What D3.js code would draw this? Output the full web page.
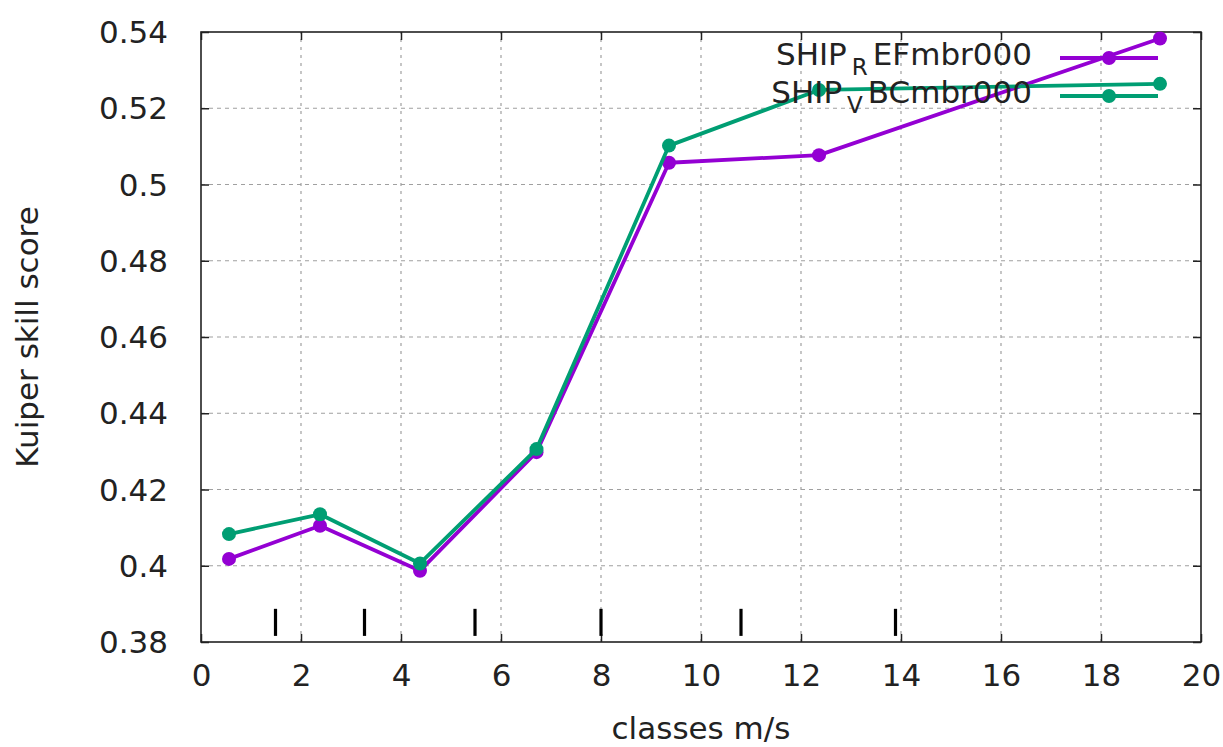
<!DOCTYPE html>
<html>
<head>
<meta charset="utf-8">
<script src="https://cdn.jsdelivr.net/npm/d3@7"></script>
<style>
  html, body { margin: 0; padding: 0; background: #fff; }
  svg { display: block; }
  text { font-family: "DejaVu Sans", sans-serif; fill: #222; }
</style>
</head>
<body>
<svg id="chart" width="1223" height="747"></svg>
<script>
// ---- data ----
const classX   = [0.56, 2.38, 4.38, 6.71, 9.36, 12.36, 19.18];
const refValues = [0.4018, 0.4105, 0.3987, 0.4298, 0.5057, 0.5077, 0.5383];
const vbcValues = [0.4083, 0.4135, 0.4006, 0.4306, 0.5102, 0.5248, 0.5264];
const classBounds = [1.49, 3.27, 5.48, 8.0, 10.8, 13.89];
const boundRange = [0.3816, 0.3887];
const xTicks = [0, 2, 4, 6, 8, 10, 12, 14, 16, 18, 20];
const yTicks = [0.38, 0.40, 0.42, 0.44, 0.46, 0.48, 0.50, 0.52, 0.54];
const seriesNames = [["SHIP", "R", "EFmbr000"], ["SHIP", "V", "BCmbr000"]];
const colors = ["#9400d3", "#009e73"];

// ---- layout ----
const svg = d3.select("#chart");
const L = 201, R = 1201, T = 32, B = 642;
const x = d3.scaleLinear().domain([0, 20]).range([L, R]);
const y = d3.scaleLinear().domain([0.38, 0.54]).range([B, T]);
const FS = 31;
const LW = 3.8, MR = 7;

// grid
const grid = svg.append("g");
xTicks.slice(1, -1).forEach(v => {
  grid.append("line").attr("x1", x(v)).attr("x2", x(v)).attr("y1", B).attr("y2", T)
    .attr("stroke", "#a0a0a0").attr("stroke-width", 1.2).attr("stroke-dasharray", "3,5");
});
yTicks.slice(1, -1).forEach(v => {
  grid.append("line").attr("x1", L).attr("x2", R).attr("y1", y(v)).attr("y2", y(v))
    .attr("stroke", "#a0a0a0").attr("stroke-width", 1.2).attr("stroke-dasharray", "4,4");
});

// axes (D3 axes, ticks inward, gnuplot style)
const tickLen = 8;
const fmtY = d => String(+d.toFixed(2));
const axB = svg.append("g").attr("transform", `translate(0,${B})`)
  .call(d3.axisBottom(x).tickValues(xTicks).tickSizeInner(-tickLen).tickSizeOuter(0).tickPadding(22));
const axT = svg.append("g").attr("transform", `translate(0,${T})`)
  .call(d3.axisTop(x).tickValues(xTicks).tickSizeInner(-tickLen).tickSizeOuter(0).tickFormat(""));
const axL = svg.append("g").attr("transform", `translate(${L},0)`)
  .call(d3.axisLeft(y).tickValues(yTicks).tickSizeInner(-tickLen).tickSizeOuter(0).tickPadding(33).tickFormat(fmtY));
const axR = svg.append("g").attr("transform", `translate(${R},0)`)
  .call(d3.axisRight(y).tickValues(yTicks).tickSizeInner(-tickLen).tickSizeOuter(0).tickFormat(""));
[axB, axT, axL, axR].forEach(a => {
  a.select(".domain").remove();
  a.selectAll(".tick line").attr("stroke", "#222").attr("stroke-width", 1.5);
  a.selectAll("text").style("font-family", '"DejaVu Sans", sans-serif').style("font-size", FS + "px").attr("fill", "#222");
});
axB.selectAll(".tick text").attr("dy", "0.71em");
axL.selectAll(".tick text").attr("dy", "0.34em");

// frame
svg.append("rect").attr("x", L).attr("y", T).attr("width", R - L).attr("height", B - T)
  .attr("fill", "none").attr("stroke", "#222").attr("stroke-width", 1.6);

// class boundary marks
svg.append("g").selectAll("line").data(classBounds).join("line")
  .attr("x1", d => x(d)).attr("x2", d => x(d))
  .attr("y1", y(boundRange[0])).attr("y2", y(boundRange[1]))
  .attr("stroke", "#000").attr("stroke-width", 3.2);

// series
const line = d3.line().x(d => x(d[0])).y(d => y(d[1]));
[refValues, vbcValues].forEach((vals, i) => {
  const pts = classX.map((cx, j) => [cx, vals[j]]);
  const g = svg.append("g");
  g.append("path").attr("d", line(pts)).attr("fill", "none")
    .attr("stroke", colors[i]).attr("stroke-width", LW).attr("stroke-linejoin", "round");
  g.selectAll("circle").data(pts).join("circle")
    .attr("cx", d => x(d[0])).attr("cy", d => y(d[1])).attr("r", MR).attr("fill", colors[i]);
});

// legend
const legX2 = 1158, legX1 = 1060, textEnd = 1032;
const rowY = [58, 96];
seriesNames.forEach((nm, i) => {
  const g = svg.append("g");
  const t = g.append("text").attr("x", textEnd).attr("y", rowY[i] + 7)
    .attr("text-anchor", "end").style("font-size", FS + "px");
  t.append("tspan").text(nm[0]);
  t.append("tspan").attr("dx", 5).attr("dy", 10).style("font-size", "23px").text(nm[1]);
  t.append("tspan").attr("dx", 5).attr("dy", -10).text(nm[2]);
  g.append("line").attr("x1", legX1).attr("x2", legX2).attr("y1", rowY[i]).attr("y2", rowY[i])
    .attr("stroke", colors[i]).attr("stroke-width", LW);
  g.append("circle").attr("cx", (legX1 + legX2) / 2).attr("cy", rowY[i]).attr("r", MR).attr("fill", colors[i]);
});

// axis labels
svg.append("text").attr("x", (L + R) / 2).attr("y", 739).attr("text-anchor", "middle")
  .style("font-size", FS + "px").text("classes m/s");
svg.append("text").attr("transform", `translate(38,${(T + B) / 2}) rotate(-90)`)
  .attr("text-anchor", "middle").style("font-size", FS + "px").text("Kuiper skill score");
</script>
</body>
</html>
